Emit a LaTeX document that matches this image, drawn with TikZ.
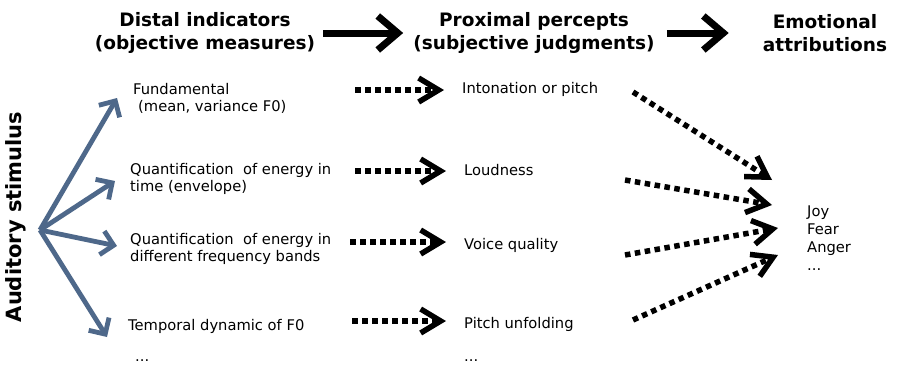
\documentclass[tikz,border=0pt]{standalone}
\usepackage{fontspec}
\setmainfont{DejaVu Sans}
\usetikzlibrary{arrows.meta}
\definecolor{slate}{RGB}{78,104,138}
\tikzset{
  head/.style={font=\bfseries\fontsize{18.5}{22.5}\selectfont, align=center, inner sep=0pt},
  cue/.style={font=\fontsize{14.7}{17}\selectfont, align=left, anchor=west, inner sep=0pt},
  flowarrow/.style={line width=7pt, -{Straight Barb[length=20pt,width=34pt]}},
  cuearrow/.style={draw=slate, line width=4.8pt, -{Straight Barb[length=12pt,width=24pt]}},
  dotarrow/.style={line width=5.5pt, dash pattern=on 5.5pt off 4.5pt, -{Straight Barb[length=20pt,width=24pt]}},
}
\begin{document}
\begin{tikzpicture}[x=1pt,y=-1pt]
\useasboundingbox (0,0) rectangle (900,370);
% column headers
\node[head] (distal) at (205,33) {Distal indicators\\(objective measures)};
\node[head] (proximal) at (534,33) {Proximal percepts\\(subjective judgments)};
\node[head] (emotion) at (825,33) {Emotional\\attributions};
\draw[flowarrow, shorten <=8pt, shorten >=10pt] (distal.east) -- (proximal.west);
\draw[flowarrow, shorten <=12pt, shorten >=34pt] (proximal.east) -- (emotion.west);

\node[head, rotate=90, font=\bfseries\fontsize{21}{24}\selectfont] (stim) at (16,217) {Auditory stimulus};

% distal cues
\node[cue] (f0) at (133,98) {Fundamental\\\hspace*{5pt}(mean, variance F0)};
\node[cue] (energy) at (130,179) {Quantification\ \ of energy in\\time (envelope)};
\node[cue] (bands) at (130,249) {Quantification\ \ of energy in\\different frequency bands};
\node[cue] (temporal) at (128,326) {Temporal dynamic of F0};
\node[cue] (moreA) at (135,361) {...};

% proximal percepts
\node[cue] (pitch) at (462,89) {Intonation or pitch};
\node[cue] (loud) at (464,170) {Loudness};
\node[cue] (voice) at (464,245) {Voice quality};
\node[cue] (unfold) at (464,324) {Pitch unfolding};
\node[cue] (moreB) at (464,361) {...};

% emotions
\node[cue, font=\fontsize{14.7}{18}\selectfont] (emo) at (807,238) {Joy\\Fear\\Anger\\...};

\coordinate (src) at (40,230);
\coordinate (cA) at (117,98);
\coordinate (cB) at (115,181);
\coordinate (cC) at (117,246);
\coordinate (cD) at (107,337);
\foreach \e in {cA,cB,cC,cD}
  \draw[cuearrow] (src) -- (\e);

\coordinate (sA) at (355,90);
\coordinate (sB) at (355,171);
\coordinate (sC) at (350,242);
\coordinate (sD) at (352,321);
\foreach \a/\b in {sA/pitch,sB/loud,sC/voice,sD/unfold}
  \draw[dotarrow, shorten >=18pt] (\a) -- (\b.west |- \a);

\coordinate (rA) at (633,92);
\coordinate (tA) at (772,180);
\coordinate (rB) at (625,180);
\coordinate (tB) at (772,205);
\coordinate (rC) at (625,255);
\coordinate (tC) at (778,228);
\coordinate (rD) at (633,320);
\coordinate (tD) at (778,255);
\foreach \a/\b in {rA/tA,rB/tB,rC/tC,rD/tD}
  \draw[dotarrow] (\a) -- (\b);
\end{tikzpicture}
\end{document}
